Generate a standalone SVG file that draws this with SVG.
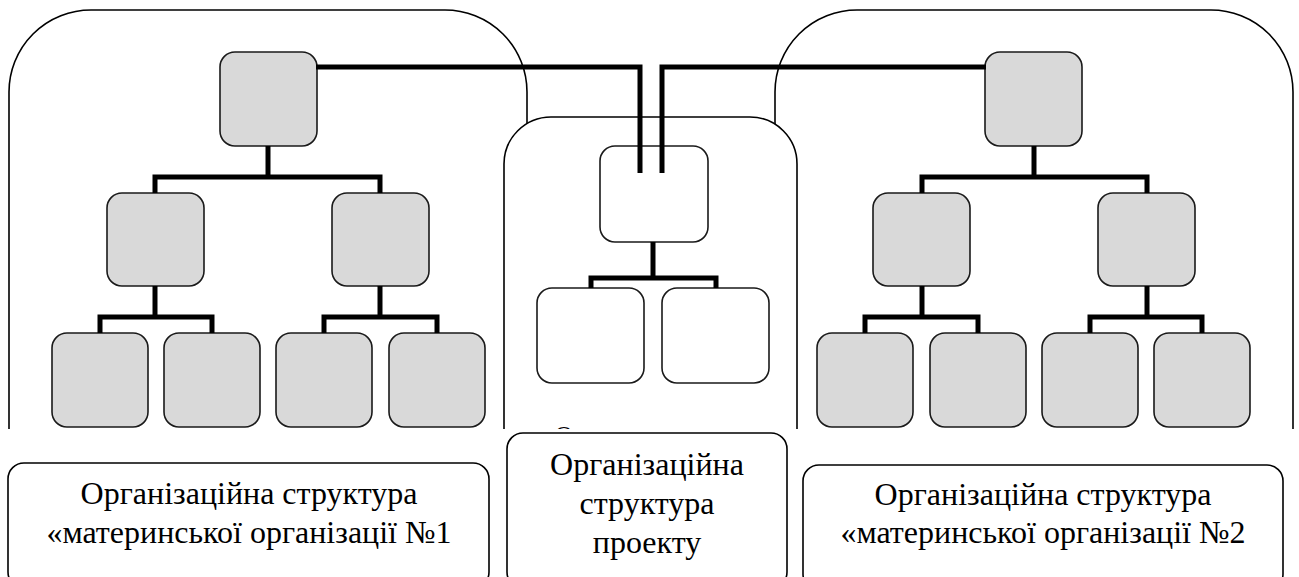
<svg xmlns="http://www.w3.org/2000/svg" width="1299" height="577" viewBox="0 0 1299 577">
  <style>
    .panel { fill: #ffffff; stroke: #000000; stroke-width: 1.6; }
    .unit { fill: #d9d9d9; stroke: #1a1a1a; stroke-width: 1.6; }
    .proj { fill: #ffffff; stroke: #1a1a1a; stroke-width: 1.6; }
    .link { fill: none; stroke: #000000; stroke-width: 5; stroke-linejoin: miter; stroke-linecap: butt; }
    .caption { fill: #ffffff; stroke: #000000; stroke-width: 1.6; }
    .label { font-size: 32px; fill: #000000; text-anchor: middle; }
  </style>

  <!-- background panels -->
  <g id="panel-org1"><rect class="panel" x="9" y="10" width="518" height="600" rx="82"/></g>
  <g id="panel-org2"><rect class="panel" x="775" y="10" width="518" height="600" rx="82"/></g>
  <g id="panel-project"><rect class="panel" x="504" y="117" width="293" height="500" rx="47"/></g>

  <!-- organisation 1 -->
  <g id="org1-head"><rect class="unit" x="220" y="52" width="97" height="94" rx="15"/></g>
  <g id="org1-a"><rect class="unit" x="107" y="193" width="97" height="93" rx="15"/></g>
  <g id="org1-b"><rect class="unit" x="332" y="193" width="97" height="93" rx="15"/></g>
  <g id="org1-a1"><rect class="unit" x="52" y="333" width="96" height="94" rx="15"/></g>
  <g id="org1-a2"><rect class="unit" x="164" y="333" width="96" height="94" rx="15"/></g>
  <g id="org1-b1"><rect class="unit" x="276" y="333" width="96" height="94" rx="15"/></g>
  <g id="org1-b2"><rect class="unit" x="389" y="333" width="96" height="94" rx="15"/></g>

  <!-- organisation 2 -->
  <g id="org2-head"><rect class="unit" x="985" y="52" width="97" height="94" rx="15"/></g>
  <g id="org2-a"><rect class="unit" x="873" y="193" width="97" height="93" rx="15"/></g>
  <g id="org2-b"><rect class="unit" x="1098" y="193" width="97" height="93" rx="15"/></g>
  <g id="org2-a1"><rect class="unit" x="817" y="333" width="96" height="94" rx="15"/></g>
  <g id="org2-a2"><rect class="unit" x="930" y="333" width="96" height="94" rx="15"/></g>
  <g id="org2-b1"><rect class="unit" x="1042" y="333" width="96" height="94" rx="15"/></g>
  <g id="org2-b2"><rect class="unit" x="1154" y="333" width="96" height="94" rx="15"/></g>

  <!-- project -->
  <g id="proj-head"><rect class="proj" x="600" y="146" width="108" height="96" rx="15"/></g>
  <g id="proj-a"><rect class="proj" x="537" y="288" width="107" height="95" rx="15"/></g>
  <g id="proj-b"><rect class="proj" x="662" y="288" width="107" height="95" rx="15"/></g>

  <!-- connectors -->
  <g id="connectors" class="link">
    <path d="M268,146 V177"/>
    <path d="M155,193 V177 H380 V193"/>
    <path d="M155,286 V317"/>
    <path d="M100,333 V317 H212 V333"/>
    <path d="M380,286 V317"/>
    <path d="M324,333 V317 H437 V333"/>

    <path d="M1034,146 V177"/>
    <path d="M922,193 V177 H1147 V193"/>
    <path d="M922,286 V317"/>
    <path d="M865,333 V317 H978 V333"/>
    <path d="M1147,286 V317"/>
    <path d="M1090,333 V317 H1202 V333"/>

    <path d="M653,242 V278"/>
    <path d="M591,288 V278 H716 V288"/>

    <path d="M316,67 H640 V173"/>
    <path d="M986,67 H662 V173"/>
  </g>

  <g font-family="'Liberation Serif', 'DejaVu Serif', serif">
    <text class="label" x="564" y="442" style="font-size:24px">О</text>

    <!-- lower strip -->
    <rect x="0" y="429" width="1299" height="148" fill="#ffffff"/>

    <g id="caption-org1">
      <rect class="caption" x="8" y="463" width="481" height="125" rx="16"/>
      <text class="label" x="249" y="504">Організаційна структура</text>
      <text class="label" x="249" y="543">«материнської організації №1</text>
    </g>
    <g id="caption-project">
      <rect class="caption" x="507" y="433" width="280" height="155" rx="16"/>
      <text class="label" x="647" y="475">Організаційна</text>
      <text class="label" x="647" y="514">структура</text>
      <text class="label" x="647" y="553">проекту</text>
    </g>
    <g id="caption-org2">
      <rect class="caption" x="803" y="465" width="480" height="125" rx="16"/>
      <text class="label" x="1043" y="505">Організаційна структура</text>
      <text class="label" x="1043" y="543">«материнської організації №2</text>
    </g>
  </g>
</svg>
